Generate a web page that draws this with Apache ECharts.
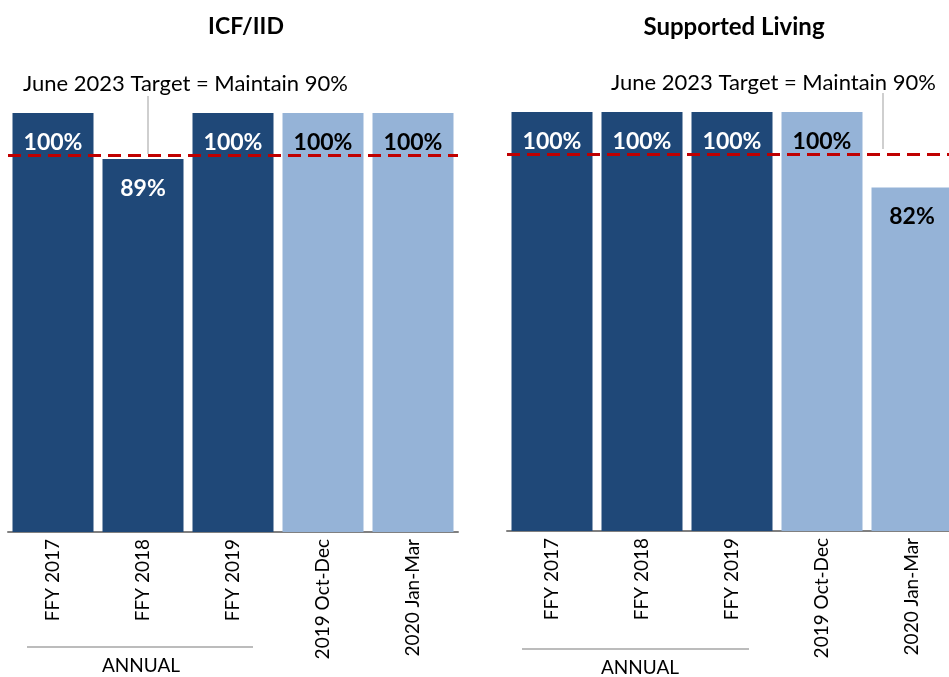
<!DOCTYPE html>
<html>
<head>
<meta charset="utf-8">
<script src="https://cdn.jsdelivr.net/npm/echarts@6/dist/echarts.min.js"></script>
<style>html,body{margin:0;padding:0;background:#fff}#c{width:949px;height:677px}</style>
</head>
<body>
<div id="c"></div>
<script>
const categories = ['FFY 2017', 'FFY 2018', 'FFY 2019', '2019 Oct-Dec', '2020 Jan-Mar'];
const periodType = ['annual', 'annual', 'annual', 'quarter', 'quarter'];
const icfValues = [100, 89, 100, 100, 100];
const slValues = [100, 100, 100, 100, 82];
const targetValue = 90;
const panelTitles = ['ICF/IID', 'Supported Living'];
const targetLabel = 'June 2023 Target = Maintain 90%';
const groupLabel = 'ANNUAL';

const DARK = '#1F4878', LIGHT = '#95B3D7';
const FONT = 'Lato';

function barData(vals) {
  return vals.map((v, i) => ({
    value: v,
    itemStyle: { color: periodType[i] === 'annual' ? DARK : LIGHT },
    label: { color: periodType[i] === 'annual' ? '#FFFFFF' : '#000000' }
  }));
}

function series(vals, idx) {
  return {
    type: 'bar',
    xAxisIndex: idx, yAxisIndex: idx,
    data: barData(vals),
    barCategoryGap: '10%',
    label: {
      show: true, position: 'insideTop', distance: 18,
      formatter: '{c}%', fontFamily: FONT, fontWeight: 'bold', fontSize: 23
    },
    markLine: {
      silent: true, symbol: 'none',
      label: { show: false },
      lineStyle: { color: '#C00000', type: [13, 7], width: 3 },
      data: [{ yAxis: targetValue }]
    },
    z: 2
  };
}

const grids = [
  { left: 8, top: 113, width: 450, height: 419, outerBoundsMode: 'none', containLabel: false },
  { left: 507, top: 112, width: 450, height: 419, outerBoundsMode: 'none', containLabel: false }
];

const xAxes = grids.map((g, i) => ({
  type: 'category', gridIndex: i, data: categories,
  axisLine: { lineStyle: { color: '#808080', width: 2 } },
  axisTick: { show: false },
  axisLabel: { rotate: 90, color: '#000', fontFamily: FONT, fontSize: 19, margin: 7, interval: 0 }
}));
const yAxes = grids.map((g, i) => ({
  type: 'value', gridIndex: i, min: 0, max: 100, show: false,
  splitLine: { show: false }
}));

const chart = echarts.init(document.getElementById('c'), null, { renderer: 'canvas' });
chart.setOption({
  animation: false,
  backgroundColor: '#fff',
  textStyle: { fontFamily: FONT },
  title: [
    { text: panelTitles[0], left: 241, top: 10, textAlign: 'center',
      textStyle: { fontFamily: FONT, fontWeight: 'bold', fontSize: 23, color: '#000' } },
    { text: panelTitles[1], left: 729, top: 10, textAlign: 'center',
      textStyle: { fontFamily: FONT, fontWeight: 'bold', fontSize: 24, color: '#000' } }
  ],
  grid: grids,
  xAxis: xAxes,
  yAxis: yAxes,
  series: [series(icfValues, 0), series(slValues, 1)],
  graphic: [
    { type: 'text', left: 23, top: 73, style: { text: targetLabel, font: '22px Lato', fill: '#000' } },
    { type: 'line', shape: { x1: 148, y1: 96, x2: 148, y2: 154 }, style: { stroke: '#BFBFBF', lineWidth: 1.5 } },
    { type: 'text', left: 611, top: 72, style: { text: targetLabel, font: '22px Lato', fill: '#000' } },
    { type: 'line', shape: { x1: 883, y1: 93, x2: 883, y2: 149 }, style: { stroke: '#BFBFBF', lineWidth: 1.5 } },
    { type: 'line', shape: { x1: 27, y1: 647, x2: 253, y2: 647 }, style: { stroke: '#A6A6A6', lineWidth: 1.5 } },
    { type: 'text', x: 141, y: 666, style: { text: groupLabel, font: '19px Lato', fill: '#000', align: 'center', verticalAlign: 'middle' } },
    { type: 'line', shape: { x1: 522, y1: 649, x2: 749, y2: 649 }, style: { stroke: '#A6A6A6', lineWidth: 1.5 } },
    { type: 'text', x: 640, y: 668, style: { text: groupLabel, font: '19px Lato', fill: '#000', align: 'center', verticalAlign: 'middle' } }
  ]
});
</script>
</body>
</html>
